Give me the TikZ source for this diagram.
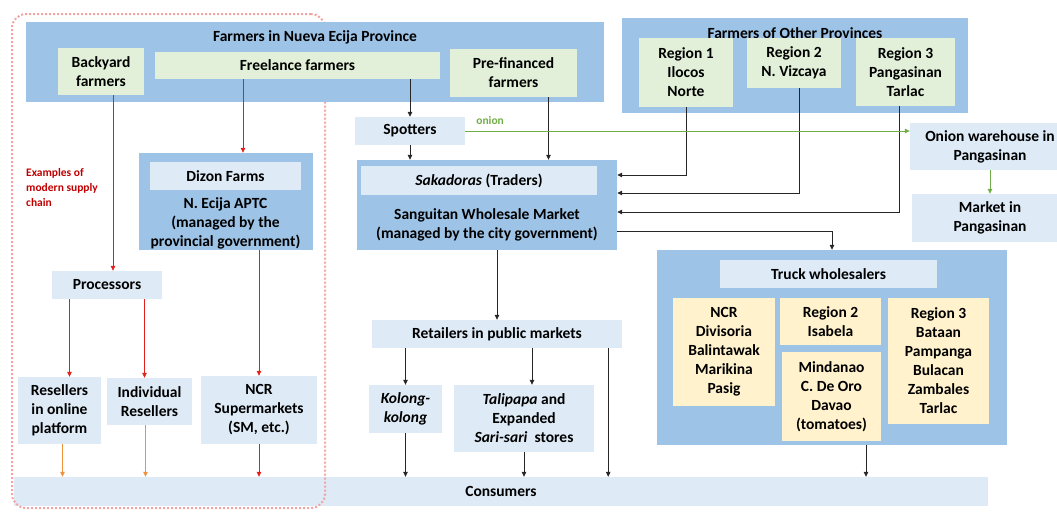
\documentclass[tikz,border=0pt]{standalone}
\usepackage{fontspec}
\setmainfont{Carlito}
\usetikzlibrary{arrows.meta}

\definecolor{outerblue}{HTML}{9DC3E6}
\definecolor{paleblue}{HTML}{DEEBF7}
\definecolor{palegreen}{HTML}{E2F0D9}
\definecolor{paleyellow}{HTML}{FFF2CC}
\definecolor{redline}{HTML}{E0201C}
\definecolor{orangeline}{HTML}{F0923C}
\definecolor{onion}{HTML}{70AD47}
\definecolor{notered}{HTML}{C00000}
\definecolor{dotred}{HTML}{F4A3A3}
\definecolor{darkline}{HTML}{262626}

\begin{document}
\begin{tikzpicture}[x=1pt,y=-1pt,
    font=\fontsize{15.5}{19}\selectfont\bfseries,
    every node/.style={inner sep=0pt, align=center},
    box/.style 2 args={minimum width=#1, minimum height=#2},
    outer/.style={fill=outerblue},
    pale/.style={fill=paleblue},
    grn/.style={fill=palegreen},
    yel/.style={fill=paleyellow},
    small/.style={font=\fontsize{11.5}{15}\selectfont\bfseries},
    arr/.style={darkline, line width=0.8pt, -{Triangle[length=5pt,width=4.5pt]}},
    redarr/.style={arr, redline},
    orangearr/.style={arr, orangeline},
    greenarr/.style={arr, onion}]
    \useasboundingbox (0,0) rectangle (1057,512);

    \node[pale, box={974}{29}] (consumers) at (501,491.5) {Consumers};
    \node[draw=dotred, line width=2pt, dash pattern=on 2pt off 2pt,
        rounded corners=14pt, box={313}{494}] (modern) at (168.5,261) {};

    % farmers in Nueva Ecija
    \node[outer, box={578}{80}] (nueva) at (315,62) {};
    \node (nuevatitle) at (315,37) {Farmers in Nueva Ecija Province};
    \node[grn, box={86}{47}] (backyard) at (101,71.5) {Backyard\\farmers};
    \node[grn, box={285}{27}] (freelance) at (297.5,65.5) {Freelance farmers};
    \node[grn, box={127}{48}] (prefin) at (513.5,73) {Pre-financed\\farmers};

    % farmers of other provinces
    \node[outer, box={346}{95}] (other) at (795,65.5) {};
    \node (othertitle) at (795,33) {Farmers of Other Provinces};
    \node[grn, box={94}{69}] (reg1) at (686,72.5) {Region 1\\Ilocos\\Norte};
    \node[grn, box={94}{50}] (reg2) at (794,63) {Region 2\\N. Vizcaya};
    \node[grn, box={99}{68}] (reg3) at (905.5,72) {Region 3\\Pangasinan\\Tarlac};

    \node[pale, box={110}{28}] (spotters) at (410,131) {Spotters};
    \node[pale, box={160}{47}] (warehouse) at (990,146.5) {Onion warehouse in\\Pangasinan};
    \node[pale, box={156}{48}] (market) at (990,218) {Market in\\Pangasinan};

    % Sanguitan
    \node[outer, box={260}{90}] (sanguitan) at (487,205) {};
    \node[pale, box={236}{29}] (sakadoras) at (479,180.5) {\textit{Sakadoras} (Traders)};
    \node (sanguitantext) at (487,224.5) {Sanguitan Wholesale Market\\(managed by the city government)};

    % modern supply chain
    \node[outer, box={174}{97}] (dizonbox) at (226,201.5) {};
    \node[pale, box={151}{28}] (dizon) at (225.5,176) {Dizon Farms};
    \node (aptc) at (225.5,223) {N. Ecija APTC\\(managed by the\\provincial government)};
    \node[small, notered, align=left, anchor=north west] (note) at (26,168) {Examples of\\modern supply\\chain};
    \node[pale, box={110}{28}] (processors) at (107,285) {Processors};
    \node[pale, box={83}{67}] (online) at (59.5,410.5) {Resellers\\in online\\platform};
    \node[pale, box={85}{47}] (individual) at (149.5,401.5) {Individual\\Resellers};
    \node[pale, box={116}{68}] (supermkt) at (259,410) {NCR\\Supermarkets\\(SM, etc.)};

    % retail
    \node[pale, box={250}{28}] (retailers) at (497,334) {Retailers in public markets};
    \node[pale, box={73}{48}] (kolong) at (405.5,409) {\textit{Kolong-}\\\textit{kolong}};
    \node[pale, box={140}{67}] (talipapa) at (524,418.5) {\textit{Talipapa} and\\Expanded\\\textit{Sari-sari}\ \ stores};

    % truck wholesalers
    \node[outer, box={350}{195}] (truck) at (832,347.5) {};
    \node[pale, box={217}{28}] (truckw) at (828.5,274) {Truck wholesalers};
    \node[yel, box={102}{108}] (ncr) at (724,352) {NCR\\Divisoria\\Balintawak\\Marikina\\Pasig};
    \node[yel, box={101}{47}] (isabela) at (830.5,321.5) {Region 2\\Isabela};
    \node[yel, box={99}{89}] (mindanao) at (831.5,396.5) {Mindanao\\C. De Oro\\Davao\\(tomatoes)};
    \node[yel, box={101}{126}] (central) at (938.5,361) {Region 3\\Bataan\\Pampanga\\Bulacan\\Zambales\\Tarlac};

    % traditional chain
    \draw[arr] (spotters.north |- freelance.south) -- (spotters.north);
    \draw[arr] (spotters.south) -- (spotters.south |- sanguitan.north);
    \draw[arr] ([xshift=35pt]prefin.south) -- ([xshift=35pt]prefin.south |- sanguitan.north);
    \draw[arr] (reg1.south) |- ([yshift=30pt]sanguitan.east);
    \draw[arr] ([xshift=5pt]reg2.south) |- ([yshift=12pt]sanguitan.east);
    \draw[arr] ([xshift=-6pt]reg3.south) |- ([yshift=-7pt]sanguitan.east);
    \draw[arr] ([yshift=-26pt]sanguitan.east) -| (truck.north);
    \draw[greenarr] (spotters.east) -- (spotters.east -| warehouse.west)
        node[small, onion, pos=0.056, above=6pt] (onionlabel) {onion};
    \draw[greenarr] (warehouse.south) -- (market.north);
    \draw[arr] (retailers.north |- sanguitan.south) -- (retailers.north);
    \draw[arr] (kolong.north |- retailers.south) -- (kolong.north);
    \draw[arr] ([xshift=8pt]talipapa.north |- retailers.south) -- ([xshift=8pt]talipapa.north);
    \draw[arr] ([xshift=-14pt]retailers.south east) -- ([xshift=-14pt]retailers.south east |- consumers.north);
    \draw[arr] (kolong.south) -- (kolong.south |- consumers.north);
    \draw[arr] (talipapa.south) -- (talipapa.south |- consumers.north);
    \draw[arr] ([xshift=34pt]truck.south) -- ([xshift=34pt]truck.south |- consumers.north);

    % modern chain
    \draw[redarr] ([xshift=17pt]dizonbox.north |- freelance.south) -- ([xshift=17pt]dizonbox.north);
    \draw[redarr] ([xshift=6pt]processors.north |- backyard.south) -- ([xshift=6pt]processors.north);
    \draw[redarr] ([xshift=10pt]online.north |- processors.south) -- ([xshift=10pt]online.north);
    \draw[redarr] ([xshift=-5pt]individual.north |- processors.south) -- ([xshift=-5pt]individual.north);
    \draw[redarr] (supermkt.north |- dizonbox.south) -- (supermkt.north);
    \draw[orangearr] ([xshift=3pt]online.south) -- ([xshift=3pt]online.south |- consumers.north);
    \draw[orangearr] ([xshift=-4pt]individual.south) -- ([xshift=-4pt]individual.south |- consumers.north);
    \draw[redarr] (supermkt.south) -- (supermkt.south |- consumers.north);
\end{tikzpicture}
\end{document}
